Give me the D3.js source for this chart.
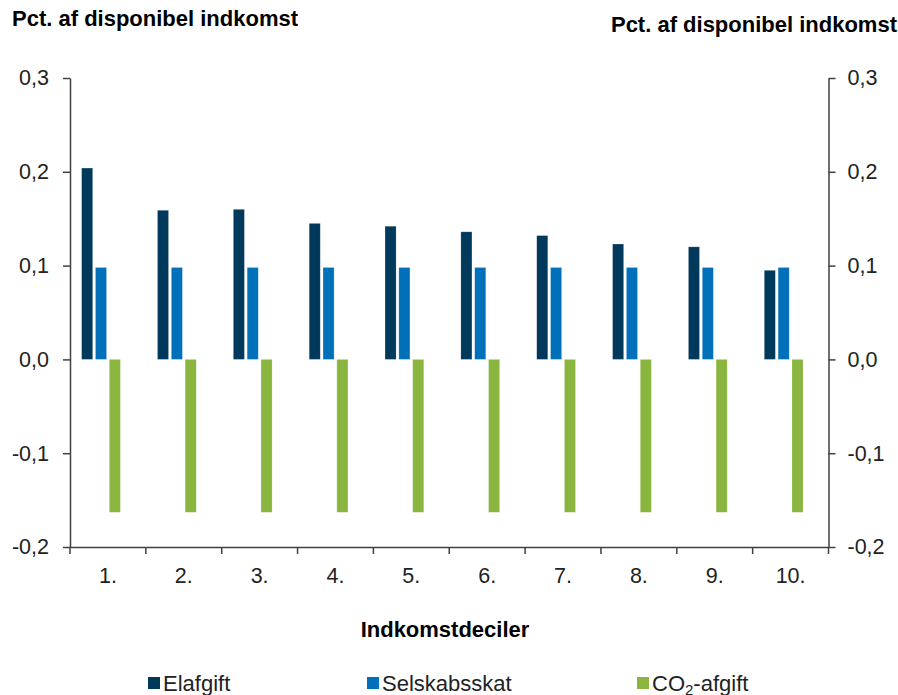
<!DOCTYPE html>
<html>
<head>
<meta charset="utf-8">
<script src="https://cdn.jsdelivr.net/npm/d3@7"></script>
<style>
  body { margin: 0; background: #fff; }
  svg { display: block; font-family: "Liberation Sans", Arial, sans-serif; }
  .tick text { fill: #222; font-size: 21.5px; }
  .domain, .tick line { stroke: #404040; stroke-width: 1.5px; }
</style>
</head>
<body>
<svg width="898" height="695"></svg>
<script>
// data
var deciles = ["1.", "2.", "3.", "4.", "5.", "6.", "7.", "8.", "9.", "10."];
var elafgift = [0.204, 0.159, 0.160, 0.145, 0.142, 0.136, 0.132, 0.123, 0.120, 0.095];
var selskabsskat = [0.098, 0.098, 0.098, 0.098, 0.098, 0.098, 0.098, 0.098, 0.098, 0.098];
var co2afgift = [-0.163, -0.163, -0.163, -0.163, -0.163, -0.163, -0.163, -0.163, -0.163, -0.163];
var yTicks = [-0.2, -0.1, 0.0, 0.1, 0.2, 0.3];

var series = [
    { key: "Elafgift", values: elafgift, color: "#00395c" },
    { key: "Selskabsskat", values: selskabsskat, color: "#0070ba" },
    { key: "CO2-afgift", values: co2afgift, color: "#8ab53e" }
];

var svg = d3.select("svg");
var plotLeft = 70, plotRight = 828.5, plotTop = 78, plotBottom = 547;

var x = d3.scaleBand().domain(deciles).range([plotLeft, plotRight]);
// excel leaves room for a 4th (empty) slot, so the groups sit left of centre
var x1 = d3.scaleBand()
    .domain(series.map(s => s.key).concat(["_empty"]))
    .range([0, x.bandwidth()])
    .paddingInner(0.2)
    .paddingOuter(0.84);
var y = d3.scaleLinear().domain([-0.2, 0.3]).range([plotBottom, plotTop]);

// danish decimal comma, plain hyphen as minus
var fmt = d => d3.format(".1f")(d).replace(".", ",").replace("\u2212", "-");

// bars
var groups = svg.append("g").selectAll("g")
    .data(series)
    .enter().append("g")
    .attr("fill", d => d.color);

groups.selectAll("rect")
    .data(s => s.values.map((v, i) => ({ key: s.key, v: v, cat: deciles[i] })))
    .enter().append("rect")
    .attr("x", d => x(d.cat) + x1(d.key))
    .attr("width", x1.bandwidth())
    .attr("y", d => y(Math.max(0, d.v)))
    .attr("height", d => Math.abs(y(d.v) - y(0)))
    .attr("stroke", "rgba(255,255,255,0.35)")
    .attr("stroke-width", 0.6);

// axes
svg.append("g")
    .attr("transform", "translate(" + plotLeft + ",0)")
    .call(d3.axisLeft(y).tickValues(yTicks).tickFormat(fmt).tickSize(7).tickSizeOuter(0).tickPadding(14));

svg.append("g")
    .attr("transform", "translate(" + plotRight + ",0)")
    .call(d3.axisRight(y).tickValues(yTicks).tickFormat(fmt).tickSize(7).tickSizeOuter(0).tickPadding(12));

var xAxis = svg.append("g")
    .attr("transform", "translate(0," + plotBottom + ")")
    .call(d3.axisBottom(x).tickSize(0).tickSizeOuter(0).tickPadding(21));

// category separators as ticks
xAxis.selectAll(".sep")
    .data(d3.range(deciles.length + 1))
    .enter().append("line")
    .attr("stroke", "#404040")
    .attr("stroke-width", 1.5)
    .attr("x1", i => plotLeft + i * x.step())
    .attr("x2", i => plotLeft + i * x.step())
    .attr("y1", 0)
    .attr("y2", 7);

svg.selectAll(".tick text").attr("font-family", null).attr("font-size", null);

// titles
svg.append("text")
    .attr("x", 12).attr("y", 26)
    .attr("font-weight", "bold").attr("font-size", "22px").attr("fill", "#000")
    .text("Pct. af disponibel indkomst");

svg.append("text")
    .attr("x", 897).attr("y", 32)
    .attr("text-anchor", "end")
    .attr("font-weight", "bold").attr("font-size", "22px").attr("fill", "#000")
    .text("Pct. af disponibel indkomst");

svg.append("text")
    .attr("x", 445).attr("y", 637)
    .attr("text-anchor", "middle")
    .attr("font-weight", "bold").attr("font-size", "22px").attr("fill", "#000")
    .text("Indkomstdeciler");

// legend
var legendX = [148, 367, 637];
var legend = svg.append("g").selectAll("g")
    .data(series)
    .enter().append("g")
    .attr("transform", (d, i) => "translate(" + legendX[i] + ",677)");

legend.append("rect")
    .attr("width", 12).attr("height", 12)
    .attr("fill", d => d.color);

var lt = legend.append("text")
    .attr("x", 15).attr("y", 14)
    .attr("font-size", "22px").attr("fill", "#222");

lt.filter(d => d.key !== "CO2-afgift").text(d => d.key);
var co2 = lt.filter(d => d.key === "CO2-afgift");
co2.append("tspan").text("CO");
co2.append("tspan").attr("font-size", "15px").attr("dy", 4).text("2");
co2.append("tspan").attr("dy", -4).text("-afgift");
</script>
</body>
</html>
